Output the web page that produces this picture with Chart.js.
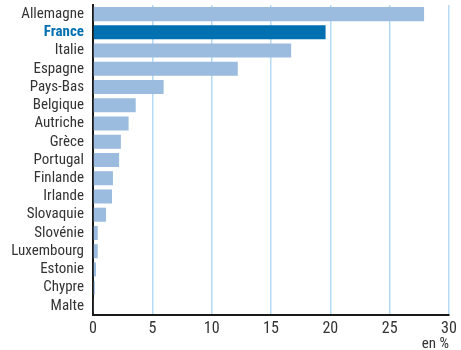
<!DOCTYPE html>
<html>
<head>
<meta charset="utf-8">
<script src="https://cdn.jsdelivr.net/npm/chart.js@4/dist/chart.umd.min.js"></script>
<style>
  html, body { margin: 0; padding: 0; background: #fff; }
</style>
</head>
<body>
<canvas id="parts-chart" width="461" height="350"></canvas>
<script>
// Pays et parts (en %)
var pays = ['Allemagne', 'France', 'Italie', 'Espagne', 'Pays-Bas', 'Belgique', 'Autriche', 'Grèce',
    'Portugal', 'Finlande', 'Irlande', 'Slovaquie', 'Slovénie', 'Luxembourg', 'Estonie', 'Chypre', 'Malte'];
var parts = [27.9, 19.6, 16.7, 12.2, 5.95, 3.6, 3.0, 2.35, 2.2, 1.68, 1.6, 1.1, 0.4, 0.4, 0.25, 0.15, 0.05];
var xTicks = [0, 5, 10, 15, 20, 25, 30];

var fontName = '"Liberation Sans Narrow", "Arial Narrow", "Roboto Condensed", sans-serif';
var barColors = pays.map(p => p === 'France' ? '#0070b0' : '#9bbcde');

var partsChartCanvas = document.getElementById('parts-chart');
var partsChart = new Chart(partsChartCanvas, {
    type: 'bar',
    data: {
        labels: pays,
        datasets: [{
            label: 'Part',
            data: parts,
            backgroundColor: barColors,
            borderWidth: 0,
            categoryPercentage: 1,
            barPercentage: 0.77
        }]
    },
    options: {
        indexAxis: 'y',
        responsive: false,
        animation: false,
        layout: { padding: { top: 5, right: 12, left: 0, bottom: 0 } },
        plugins: { legend: { display: false }, tooltip: { enabled: false } },
        scales: {
            x: {
                min: 0,
                max: 30,
                afterBuildTicks: axis => { axis.ticks = xTicks.map(v => ({ value: v })); },
                afterFit: axis => { axis.height = 35; },
                grid: {
                    color: ctx => ctx.tick && ctx.tick.value === 0 ? 'rgba(0,0,0,0)' : '#b5daf2',
                    lineWidth: 1.5,
                    drawTicks: false
                },
                border: { color: '#1a1a1a', width: 2 },
                ticks: {
                    color: '#333',
                    padding: 4,
                    font: { family: fontName, size: 16 }
                },
                title: {
                    display: true,
                    text: 'en %',
                    align: 'end',
                    color: '#333',
                    padding: { top: 0, bottom: -3 },
                    font: { family: fontName, size: 15 }
                }
            },
            y: {
                afterFit: axis => {
                    axis.width = 93;
                    axis.paddingTop = 0;
                    axis.paddingBottom = 0;
                },
                grid: { display: false, drawTicks: false },
                border: { color: '#1a1a1a', width: 2 },
                ticks: {
                    padding: 9,
                    autoSkip: false,
                    color: ctx => pays[ctx.index] === 'France' ? '#0070b0' : '#333',
                    font: ctx => ({
                        family: fontName,
                        size: 15,
                        weight: pays[ctx.index] === 'France' ? 'bold' : 'normal'
                    })
                }
            }
        }
    }
});
</script>
</body>
</html>
